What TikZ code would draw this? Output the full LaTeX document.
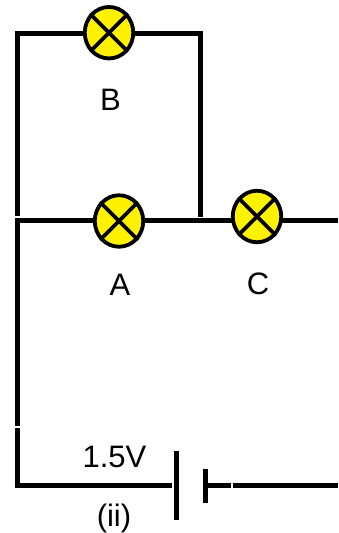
\documentclass[tikz,border=0pt]{standalone}
\usepackage{fontspec}
\setmainfont{Liberation Sans}
\usetikzlibrary{shapes.geometric}
\tikzset{
  wire/.style={line width=5pt,line cap=butt,line join=miter},
  lamp/.style={ellipse,draw,line width=3.8pt,fill=yellow,minimum width=48.5pt,minimum height=51.5pt,inner sep=0pt},
  cross/.style={line width=3.8pt},
  lbl/.style={inner sep=0pt,font=\fontsize{31}{36}\selectfont,text=black},
  plate/.style={line width=5pt}
}
\begin{document}
\begin{tikzpicture}[x=1pt,y=-1pt]
\path[use as bounding box,fill=white] (0,0) rectangle (338,533);
% named points
\coordinate (tl) at (14.5,33.5);
\coordinate (tr) at (202.5,33.5);
\coordinate (ltop) at (17,33.5);
\coordinate (lbot) at (17,216);
\coordinate (rtop) at (200,33.5);
\coordinate (rbot) at (200,217);
\coordinate (ml) at (15,220.5);
\coordinate (mr) at (338,220.5);
\coordinate (a1) at (17.5,219);
\coordinate (a2) at (17.5,426);
\coordinate (b1) at (17.5,428);
\coordinate (b2) at (17.5,487);
\coordinate (bl) at (15,485);
\coordinate (br) at (172,485);
\coordinate (p1t) at (176,451);
\coordinate (p1b) at (176,520);
\coordinate (p2t) at (205.5,468.5);
\coordinate (p2b) at (205.5,503);
\coordinate (p2m) at (205.5,485);
\coordinate (g1) at (231,485);
\coordinate (g2) at (233,485);
\coordinate (er) at (338,485);
% wires
\draw[wire] (tl) -- (tr);
\draw[wire] (ltop) -- (lbot);
\draw[wire] (rtop) -- (rbot);
\draw[wire] (ml) -- (mr);
\draw[wire] (a1) -- (a2);
\draw[wire] (b1) -- (b2);
\draw[wire] (bl) -- (br);
\draw[plate] (p1t) -- (p1b);
\draw[plate] (p2t) -- (p2b);
\draw[wire] (p2m) -- (g1);
\draw[wire] (g2) -- (er);
% lamps
\foreach \n/\x/\y in {B/109/32.7,A/119/221,C/257/216.5}{
  \node[lamp] (\n) at (\x,\y) {};
  \draw[cross] (\n.45) -- (\n.225);
  \draw[cross] (\n.135) -- (\n.315);
}
% labels
\node[lbl] (lb) at (110.5,100) {B};
\node[lbl] (la) at (120,285) {A};
\node[lbl] (lc) at (258,284) {C};
\node[lbl] (lv) at (114.5,457) {1.5V};
\node[lbl] (lii) at (114,518) {(ii)};
\end{tikzpicture}
\end{document}
